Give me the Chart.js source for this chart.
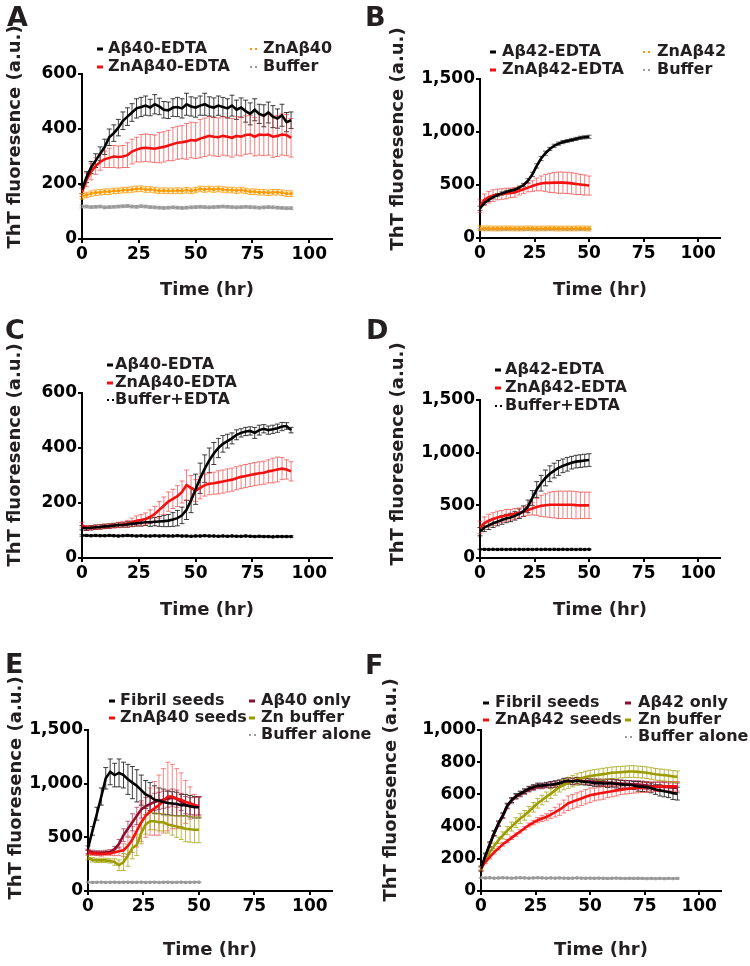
<!DOCTYPE html>
<html>
<head>
<meta charset="utf-8">
<script src="https://cdn.jsdelivr.net/npm/chart.js@4.4.0/dist/chart.umd.min.js"></script>
<style>
  body { margin: 0; background: #fff; width: 750px; height: 966px; position: relative; overflow: hidden; }
  canvas { position: absolute; }
  .lab { position: absolute; font: bold 27px/27px "DejaVu Sans"; color: #231f20; }
</style>
</head>
<body>
<canvas id="cA" width="375" height="320" style="left:0;top:0"></canvas>
<canvas id="cB" width="375" height="320" style="left:375px;top:0"></canvas>
<canvas id="cC" width="375" height="320" style="left:0;top:320px"></canvas>
<canvas id="cD" width="375" height="320" style="left:375px;top:320px"></canvas>
<canvas id="cE" width="375" height="326" style="left:0;top:640px"></canvas>
<canvas id="cF" width="375" height="326" style="left:375px;top:640px"></canvas>
<div class="lab" style="left:7px;top:3px">A</div>
<div class="lab" style="left:365px;top:3px">B</div>
<div class="lab" style="left:5px;top:316px">C</div>
<div class="lab" style="left:366px;top:316px">D</div>
<div class="lab" style="left:5px;top:650px">E</div>
<div class="lab" style="left:365px;top:651px">F</div>
<script>
// time points (hr)
const T92 = [0,2,4,6,8,10,12,14,16,18,20,22,24,26,28,30,32,34,36,38,40,42,44,46,48,50,52,54,56,58,60,62,64,66,68,70,72,74,76,78,80,82,84,86,88,90,92];
const T50 = [0,2,4,6,8,10,12,14,16,18,20,22,24,26,28,30,32,34,36,38,40,42,44,46,48,50];
const T90 = [0,2,4,6,8,10,12,14,16,18,20,22,24,26,28,30,32,34,36,38,40,42,44,46,48,50,52,54,56,58,60,62,64,66,68,70,72,74,76,78,80,82,84,86,88,90];

const xTicks = [0, 25, 50, 75, 100];

// ---- A ----
const a40 = [180,225,260,285,310,335,370,385,405,430,445,460,475,480,485,478,490,482,470,468,478,480,475,490,482,478,485,490,482,478,485,480,475,485,470,478,465,455,470,455,448,460,445,438,450,425,432];
const a40Err = [15,20,22,25,25,28,30,30,30,32,32,32,35,35,35,30,35,30,30,30,32,35,35,40,35,35,35,40,35,35,35,35,35,38,35,35,40,40,40,35,40,38,40,35,40,35,30];
const aZn40 = [170,215,245,265,280,290,295,300,298,300,305,318,325,330,332,330,328,332,335,340,345,350,352,355,360,358,365,370,375,372,370,375,372,368,375,372,378,380,372,380,378,380,372,375,380,378,368];
const aZn40Err = [15,25,30,30,30,30,35,40,40,40,45,45,45,50,50,50,50,55,55,55,60,60,60,65,65,65,70,70,70,70,70,70,70,70,70,70,70,70,70,75,75,75,75,75,75,75,70];
const aZnOnly = [155,160,165,168,170,172,172,175,175,178,178,180,182,183,180,180,178,175,176,175,175,176,175,178,175,178,182,180,182,180,182,180,178,178,176,178,175,172,172,170,170,168,170,170,168,165,165];
const aZnOnlyErr = [10,10,10,10,10,10,10,10,10,10,10,10,10,10,10,10,10,10,10,10,10,10,10,10,10,10,10,10,10,10,10,10,10,10,10,10,10,10,10,10,10,10,10,10,10,10,10];
const aBuf = [118,118,116,117,118,115,116,117,118,119,120,118,117,119,118,116,115,114,113,114,115,114,113,114,115,116,117,116,115,116,117,118,117,116,115,116,117,116,115,114,115,116,115,114,113,112,112];
const aBufErr = [5,5,5,5,5,5,5,5,5,5,5,5,5,5,5,5,5,5,5,5,5,5,5,5,5,5,5,5,5,5,5,5,5,5,5,5,5,5,5,5,5,5,5,5,5,5,5];

// ---- B ----
const b42 = [280,330,360,385,405,420,435,445,455,475,500,540,600,680,750,800,840,870,890,905,915,925,935,945,950,955];
const b42Err = [20,15,15,15,15,15,15,15,15,15,15,20,20,20,20,20,15,15,15,15,15,15,15,15,15,15];
const bZn42 = [300,360,385,400,410,415,420,425,430,445,460,475,490,505,515,520,520,522,522,522,520,515,510,505,500,495];
const bZn42Err = [60,55,55,55,50,50,50,45,45,40,40,40,50,60,70,80,90,95,100,100,100,100,100,95,95,90];
const bZnOnly = [92,90,91,90,89,90,91,90,90,89,90,91,90,89,90,90,91,90,89,90,90,89,90,91,90,89];
const bZnOnlyErr = [22,22,22,22,22,22,22,22,22,22,22,22,22,22,22,22,22,22,22,22,22,22,22,22,22,22];
const bBuf = [86,85,85,86,85,84,85,86,85,85,84,85,86,85,85,84,85,85,86,85,84,85,85,84,85,85];
const bBufErr = [4,4,4,4,4,4,4,4,4,4,4,4,4,4,4,4,4,4,4,4,4,4,4,4,4,4];

// ---- C ----
const c40 = [110,108,110,112,113,115,116,118,120,120,122,124,126,128,130,130,132,133,134,136,140,145,155,175,210,250,290,325,355,380,400,415,425,435,448,455,460,462,455,465,470,465,468,472,478,480,465];
const c40Err = [8,8,8,8,8,8,8,8,8,8,10,10,10,12,12,15,15,18,20,22,25,28,30,35,45,55,55,50,45,40,35,30,25,20,18,15,15,15,20,18,15,15,15,15,15,12,10];
const cZn40 = [120,110,110,112,113,115,116,118,120,122,125,130,135,138,142,150,160,175,190,205,215,225,240,265,255,245,255,265,270,272,275,278,282,285,290,295,298,302,305,308,310,315,318,322,325,322,315];
const cZn40Err = [10,8,8,8,8,8,8,8,10,10,12,15,18,20,22,25,28,30,32,35,35,38,40,55,45,40,40,40,40,40,42,42,42,42,42,42,42,42,42,42,42,42,45,45,40,35,35];
const cBuf = [82,82,81,82,81,81,82,81,80,81,82,81,80,81,80,80,81,80,81,80,80,81,80,80,79,80,80,81,80,80,79,80,79,80,79,79,80,79,78,79,78,78,77,78,78,78,78];
const cBufErr = [3,3,3,3,3,3,3,3,3,3,3,3,3,3,3,3,3,3,3,3,3,3,3,3,3,3,3,3,3,3,3,3,3,3,3,3,3,3,3,3,3,3,3,3,3,3,3];

// ---- D ----
const d42 = [250,290,310,330,345,360,375,385,400,420,445,490,570,650,710,760,800,830,855,875,890,905,915,920,925,930];
const d42Err = [40,40,40,40,40,40,40,40,40,45,50,60,70,75,75,75,75,70,70,65,65,60,60,60,60,60];
const dZn42 = [290,330,355,370,385,395,405,410,420,430,440,455,470,485,495,500,505,505,505,505,505,505,502,500,500,500];
const dZn42Err = [60,60,60,60,60,55,55,50,50,45,45,50,60,80,100,110,120,125,130,130,130,130,130,125,125,125];
const dBuf = [82,82,81,82,81,82,81,82,81,82,81,82,81,82,81,82,81,82,81,82,81,82,81,82,81,82];
const dBufErr = [3,3,3,3,3,3,3,3,3,3,3,3,3,3,3,3,3,3,3,3,3,3,3,3,3,3];

// ---- E ----
const eFib = [400,560,720,880,1050,1110,1080,1100,1080,1040,1010,980,940,900,880,850,840,830,820,815,810,800,800,790,780,780];
const eFibErr = [20,40,60,80,100,120,110,130,120,140,150,150,140,130,130,130,120,120,110,110,110,100,100,100,100,100];
const eZnSeed = [360,350,350,345,350,350,360,370,380,420,480,560,640,700,740,770,800,840,880,880,860,850,830,820,800,790];
const eZnSeedErr = [20,20,20,20,20,20,30,40,60,80,120,150,180,200,220,250,280,300,320,300,280,250,200,150,100,90];
const eOnly = [370,360,355,355,360,365,390,440,520,580,640,700,760,790,810,830,840,850,860,870,860,830,800,790,790,790];
const eOnlyErr = [20,20,20,20,20,20,25,40,60,70,80,80,80,80,80,80,80,80,80,80,80,80,80,80,80,80];
const eZnBuf = [310,290,285,285,285,280,270,240,270,330,400,430,540,620,650,650,640,640,620,610,600,590,580,575,570,570];
const eZnBufErr = [20,20,20,20,20,20,30,50,80,100,100,100,100,90,80,80,80,80,80,90,100,110,120,120,120,120];
const eBuf = [82,80,81,82,80,81,82,80,81,82,80,81,82,80,81,82,80,81,82,80,81,82,80,81,82,82];
const eBufErr = [4,4,4,4,4,4,4,4,4,4,4,4,4,4,4,4,4,4,4,4,4,4,4,4,4,4];

// ---- F ----
const fFib = [140,220,290,360,420,470,530,565,590,605,620,635,645,655,655,660,660,665,670,680,685,680,685,680,678,675,670,670,668,668,670,665,662,660,660,655,650,648,645,640,630,625,620,615,608,605];
const fFibErr = [15,15,15,15,15,15,15,15,15,15,15,15,15,15,15,15,20,20,20,20,20,20,20,20,20,20,20,20,20,25,25,25,25,25,25,25,30,30,30,30,30,35,35,35,40,40];
const fZnSeed = [140,180,210,240,265,290,310,330,350,370,390,410,425,440,450,460,475,490,505,525,545,555,565,575,585,595,600,605,610,615,620,625,628,632,635,638,640,642,645,645,648,648,650,650,650,650];
const fZnSeedErr = [10,10,10,10,10,10,10,10,10,10,10,12,14,16,18,20,25,30,35,40,45,45,45,45,45,45,40,40,40,35,35,35,30,30,30,30,30,30,30,30,30,30,30,30,30,30];
const fOnly = [135,215,285,355,415,465,525,560,585,600,615,630,640,650,650,655,658,662,668,678,684,682,686,684,682,680,678,676,675,674,672,670,668,666,664,662,660,658,655,652,650,648,646,644,642,640];
const fOnlyErr = [15,15,15,15,15,15,15,15,15,15,15,15,15,15,15,15,18,18,18,18,18,20,20,20,20,20,20,20,20,22,22,22,22,22,22,25,25,25,25,25,25,28,28,28,30,30];
const fZnBuf = [140,195,240,280,315,345,375,400,425,450,470,495,520,545,565,585,605,625,645,660,672,682,692,700,708,714,718,722,726,730,734,736,738,740,742,742,740,738,735,730,725,722,720,716,712,710];
const fZnBufErr = [10,12,15,18,20,22,25,28,30,30,30,30,30,30,30,30,30,30,30,32,34,35,36,36,36,36,36,36,36,36,36,36,36,36,36,36,36,36,36,36,36,36,36,36,36,36];
const fBuf = [82,81,82,80,81,82,81,80,81,82,81,80,81,82,81,80,81,80,81,80,79,80,81,80,79,80,79,80,79,78,79,80,79,78,79,78,79,78,77,78,77,78,77,78,77,78];
const fBufErr = [4,4,4,4,4,4,4,4,4,4,4,4,4,4,4,4,4,4,4,4,4,4,4,4,4,4,4,4,4,4,4,4,4,4,4,4,4,4,4,4,4,4,4,4,4,4];

const FONT = '"DejaVu Sans", "Liberation Sans", sans-serif';
const INK = '#231f20';

const BLACK = '#000000', RED = '#f21010', ORANGE = '#ff9a00', GREY = '#9a9a9a', DARKRED = '#8e1030', OLIVE = '#9c9c00';

function line(label, xs, ys, errs, color, errColor, dotted) {
  return {
    label: label,
    data: xs.map((x, i) => ({ x: x, y: ys[i] })),
    errors: errs,
    errColor: errColor,
    dotted: dotted,
    borderColor: color,
    backgroundColor: color,
    borderWidth: dotted ? 1.5 : 2.6,
    pointRadius: dotted ? 1.6 : 0,
    pointStyle: dotted ? 'rect' : 'circle',
    pointBorderWidth: 1,
    fill: false,
    tension: 0
  };
}

const errorBars = {
  id: 'errorBars',
  beforeDatasetsDraw(chart) {
    const { ctx, scales: { x, y } } = chart;
    chart.data.datasets.forEach(ds => {
      if (!ds.errors) return;
      ctx.save();
      ctx.strokeStyle = ds.errColor;
      ctx.lineWidth = 1;
      ds.data.forEach((p, j) => {
        const e = ds.errors[j];
        const px = x.getPixelForValue(p.x);
        const y1 = y.getPixelForValue(p.y + e);
        const y2 = y.getPixelForValue(p.y - e);
        ctx.beginPath();
        ctx.moveTo(px, y1); ctx.lineTo(px, y2);
        ctx.moveTo(px - 2.5, y1); ctx.lineTo(px + 2.5, y1);
        ctx.moveTo(px - 2.5, y2); ctx.lineTo(px + 2.5, y2);
        ctx.stroke();
      });
      ctx.restore();
    });
  }
};

function decor(geo) {
  return {
    id: 'decor',
    afterDraw(chart) {
      const ctx = chart.ctx;
      ctx.save();
      ctx.translate(geo.yTitle[0], geo.yTitle[1]);
      ctx.rotate(-Math.PI / 2);
      ctx.font = 'bold 18px ' + FONT;
      ctx.fillStyle = INK;
      ctx.textAlign = 'center';
      ctx.textBaseline = 'middle';
      ctx.fillText('ThT fluoresence (a.u.)', 0, 0);
      ctx.restore();

      ctx.save();
      ctx.font = 'bold 16px ' + FONT;
      ctx.textBaseline = 'middle';
      geo.legend.forEach(it => {
        const ds = chart.data.datasets[it[0]];
        const col = geo.cols[it[1]];
        const yy = geo.rows[it[2]];
        ctx.fillStyle = ds.borderColor;
        if (ds.dotted) {
          ctx.fillRect(col[0], yy - 1, 2, 2);
          ctx.fillRect(col[0] + 5, yy - 1, 2, 2);
        } else {
          ctx.fillRect(col[0], yy - 1.5, 6, 3);
        }
        ctx.fillStyle = INK;
        ctx.fillText(ds.label, col[1], yy);
      });
      ctx.restore();
    }
  };
}

function panel(id, geo, datasets, yMax, yStep) {
  const tickFont = { family: FONT, size: 17, weight: 'bold' };
  new Chart(document.getElementById(id), {
    type: 'line',
    data: { datasets: datasets },
    options: {
      responsive: false,
      animation: false,
      devicePixelRatio: 1,
      layout: { padding: { top: geo.top, right: geo.w - geo.right, left: 0, bottom: 0 } },
      plugins: { legend: { display: false }, tooltip: { enabled: false } },
      scales: {
        x: {
          type: 'linear', min: 0, max: 110,
          afterBuildTicks: s => { s.ticks = xTicks.map(v => ({ value: v })); },
          afterFit: s => { s.height = geo.h - geo.bottom; },
          ticks: { color: '#000', font: tickFont, padding: 1, maxRotation: 0 },
          grid: { drawOnChartArea: false, tickLength: 4, color: '#000', lineWidth: 2 },
          border: { color: '#000', width: 2 },
          title: { display: true, text: 'Time (hr)', color: INK,
                   font: { family: FONT, size: 18, weight: 'bold' },
                   padding: { top: 0, bottom: geo.xTitlePad } }
        },
        y: {
          min: 0, max: yMax,
          afterFit: s => { s.width = geo.left; },
          ticks: { stepSize: yStep, color: '#000', font: tickFont, padding: 1,
                   callback: v => v.toLocaleString('en-US') },
          grid: { drawOnChartArea: false, tickLength: 4, color: '#000', lineWidth: 2 },
          border: { color: '#000', width: 2 }
        }
      }
    },
    plugins: [errorBars, decor(geo)]
  });
}

panel('cA', { w: 375, h: 320, left: 82, top: 74, bottom: 239, right: 332, xTitlePad: 19, yTitle: [15, 137],
  cols: [[97, 108], [250, 263]], rows: [49, 67], legend: [[0,0,0],[1,0,1],[2,1,0],[3,1,1]] }, [
  line('Aβ40-EDTA', T92, a40, a40Err, BLACK, 'rgba(0,0,0,0.75)', false),
  line('ZnAβ40-EDTA', T92, aZn40, aZn40Err, RED, 'rgba(240,40,40,0.6)', false),
  line('ZnAβ40', T92, aZnOnly, aZnOnlyErr, ORANGE, 'rgba(255,154,0,0.8)', true),
  line('Buffer', T92, aBuf, aBufErr, GREY, 'rgba(150,150,150,0.7)', true)
], 600, 200);

panel('cB', { w: 375, h: 320, left: 105, top: 79, bottom: 238, right: 345, xTitlePad: 19, yTitle: [23, 139],
  cols: [[115, 127], [268, 282]], rows: [52, 70], legend: [[0,0,0],[1,0,1],[2,1,0],[3,1,1]] }, [
  line('Aβ42-EDTA', T50, b42, b42Err, BLACK, 'rgba(0,0,0,0.6)', false),
  line('ZnAβ42-EDTA', T50, bZn42, bZn42Err, RED, 'rgba(240,40,40,0.6)', false),
  line('ZnAβ42', T50, bZnOnly, bZnOnlyErr, ORANGE, 'rgba(255,154,0,0.8)', true),
  line('Buffer', T50, bBuf, bBufErr, GREY, 'rgba(150,150,150,0.7)', true)
], 1500, 500);

panel('cC', { w: 375, h: 320, left: 82, top: 73, bottom: 238, right: 332, xTitlePad: 19, yTitle: [15, 135],
  cols: [[107, 115]], rows: [45, 63, 80], legend: [[0,0,0],[1,0,1],[2,0,2]] }, [
  line('Aβ40-EDTA', T92, c40, c40Err, BLACK, 'rgba(0,0,0,0.75)', false),
  line('ZnAβ40-EDTA', T92, cZn40, cZn40Err, RED, 'rgba(240,40,40,0.6)', false),
  line('Buffer+EDTA', T92, cBuf, cBufErr, BLACK, 'rgba(0,0,0,0.6)', true)
], 600, 200);

panel('cD', { w: 375, h: 320, left: 105, top: 80, bottom: 238, right: 345, xTitlePad: 19, yTitle: [23, 134],
  cols: [[120, 130]], rows: [50, 68, 86], legend: [[0,0,0],[1,0,1],[2,0,2]] }, [
  line('Aβ42-EDTA', T50, d42, d42Err, BLACK, 'rgba(0,0,0,0.75)', false),
  line('ZnAβ42-EDTA', T50, dZn42, dZn42Err, RED, 'rgba(240,40,40,0.6)', false),
  line('Buffer+EDTA', T50, dBuf, dBufErr, BLACK, 'rgba(0,0,0,0.6)', true)
], 1500, 500);

panel('cE', { w: 375, h: 326, left: 88, top: 90, bottom: 251, right: 332, xTitlePad: 5, yTitle: [16, 148],
  cols: [[109, 120], [249, 261]], rows: [61, 78, 95], legend: [[0,0,0],[1,0,1],[2,1,0],[3,1,1],[4,1,2]] }, [
  line('Fibril seeds', T50, eFib, eFibErr, BLACK, 'rgba(0,0,0,0.75)', false),
  line('ZnAβ40 seeds', T50, eZnSeed, eZnSeedErr, RED, 'rgba(240,40,40,0.55)', false),
  line('Aβ40 only', T50, eOnly, eOnlyErr, DARKRED, 'rgba(142,16,48,0.6)', false),
  line('Zn buffer', T50, eZnBuf, eZnBufErr, OLIVE, 'rgba(156,156,0,0.7)', false),
  line('Buffer alone', T50, eBuf, eBufErr, GREY, 'rgba(150,150,150,0.7)', true)
], 1500, 500);

panel('cF', { w: 375, h: 326, left: 106, top: 90, bottom: 251, right: 346, xTitlePad: 5, yTitle: [16, 150],
  cols: [[108, 120], [250, 263]], rows: [63, 80, 97], legend: [[0,0,0],[1,0,1],[2,1,0],[3,1,1],[4,1,2]] }, [
  line('Fibril seeds', T90, fFib, fFibErr, BLACK, 'rgba(0,0,0,0.75)', false),
  line('ZnAβ42 seeds', T90, fZnSeed, fZnSeedErr, RED, 'rgba(240,40,40,0.6)', false),
  line('Aβ42 only', T90, fOnly, fOnlyErr, DARKRED, 'rgba(142,16,48,0.6)', false),
  line('Zn buffer', T90, fZnBuf, fZnBufErr, OLIVE, 'rgba(156,156,0,0.7)', false),
  line('Buffer alone', T90, fBuf, fBufErr, GREY, 'rgba(150,150,150,0.7)', true)
], 1000, 200);
</script>
</body>
</html>
